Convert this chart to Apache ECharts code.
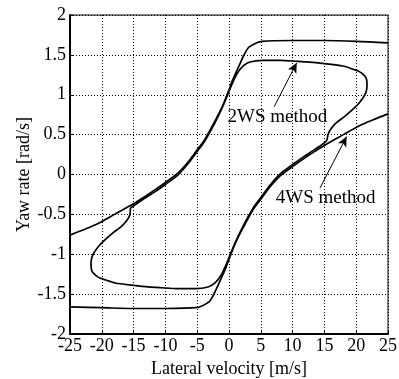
<!DOCTYPE html>
<html>
<head>
<meta charset="utf-8">
<script src="https://cdn.jsdelivr.net/npm/echarts@6/dist/echarts.min.js"></script>
<style>
  html, body { margin: 0; padding: 0; background: #fff; }
  #yawChart { width: 399px; height: 379px; }
</style>
</head>
<body>
<div id="yawChart"></div>
<script>
// upper branch of the 4WS curve (lateral velocity, yaw rate)
const upperBranch = [
  [-25, -0.76], [-22.5, -0.68], [-20.5, -0.61], [-18, -0.5], [-15.3, -0.38],
  [-13.5, -0.29], [-11.6, -0.19], [-10, -0.1], [-8, 0.02], [-6.5, 0.15],
  [-5, 0.31], [-3.8, 0.44], [-2.2, 0.67], [-1, 0.86], [-0.2, 1.02],
  [0.5, 1.17], [1.5, 1.35], [2.5, 1.52], [3.2, 1.6], [5.2, 1.67],
  [10, 1.68], [15, 1.68], [20, 1.67], [25, 1.65]
];
// lower branch of the 4WS curve
const lowerBranch = [
  [-25, -1.66], [-20, -1.67], [-15, -1.68], [-10, -1.68], [-5.2, -1.67],
  [-3.2, -1.6], [-2.5, -1.52], [-1.5, -1.35], [-0.5, -1.17], [0.2, -1.02],
  [1, -0.86], [2.2, -0.67], [3.8, -0.44], [5, -0.31], [6.5, -0.15],
  [8, -0.02], [10, 0.1], [11.6, 0.19], [13.5, 0.29], [15.3, 0.38],
  [18, 0.5], [20.5, 0.61], [22.5, 0.68], [25, 0.76]
];
// closed 2WS loop
const loop2WS = [
  [-15.5, -0.42], [-13.5, -0.31], [-11.6, -0.215], [-10, -0.125], [-8, -0.005],
  [-6.5, 0.13], [-5, 0.29], [-3.8, 0.42], [-2.2, 0.65], [-1, 0.85],
  [-0.2, 1.0], [0.5, 1.14], [1.3, 1.27], [2.2, 1.36], [3.3, 1.41],
  [5.3, 1.43], [8, 1.43], [10.7, 1.42], [12.7, 1.41], [15, 1.39],
  [17.9, 1.36], [19.5, 1.32], [20.5, 1.29], [21.3, 1.24], [21.6, 1.2],
  [21.7, 1.13], [21.6, 1.05], [21.3, 0.99], [20.5, 0.9], [19.5, 0.82],
  [18.2, 0.73], [16.9, 0.65], [16.1, 0.58], [15.6, 0.51], [15.3, 0.42],
  [13.5, 0.315], [11.6, 0.215], [10, 0.125], [8, 0.005], [6.5, -0.13],
  [5, -0.29], [3.8, -0.42], [2.2, -0.65], [1, -0.85], [0.2, -1.0],
  [-0.5, -1.14], [-1.3, -1.27], [-2.2, -1.36], [-3.3, -1.41], [-5.3, -1.43],
  [-8, -1.43], [-10.7, -1.42], [-12.7, -1.41], [-15, -1.39], [-17.9, -1.36],
  [-19.5, -1.32], [-20.5, -1.29], [-21.3, -1.24], [-21.6, -1.2], [-21.7, -1.13],
  [-21.6, -1.05], [-21.3, -0.99], [-20.5, -0.9], [-19.5, -0.82], [-18.2, -0.73],
  [-16.9, -0.65], [-16.1, -0.58], [-15.6, -0.51], [-15.5, -0.42]
];
// annotation arrows: [tail, tip]
const arrow2WS = [[7.1, 0.85], [10.65, 1.4]];
const arrow4WS = [[14.3, -0.17], [18.5, 0.475]];
const labelNames = ['2WS method', '4WS method'];
const labelPositions = [[7.6, 0.72], [15.2, -0.3]];

const fontFamily = "'Liberation Serif', 'DejaVu Serif', serif";
const curveStyle = { color: '#000', width: 1.7 };
const gridLine = { show: true, lineStyle: { color: '#000', type: [1, 2], width: 1 } };

let chart = echarts.init(document.getElementById('yawChart'), null, { renderer: 'canvas' });

chart.setOption({
  animation: false,
  textStyle: { fontFamily: fontFamily },
  grid: {
    left: 70, right: 11, top: 15, bottom: 45,
    outerBoundsMode: 'none',
    containLabel: false,
    show: true, borderColor: '#000', borderWidth: 1, backgroundColor: 'transparent'
  },
  xAxis: {
    type: 'value',
    min: -25, max: 25, interval: 5,
    name: 'Lateral velocity [m/s]',
    nameLocation: 'middle',
    nameGap: 26,
    nameMoveOverlap: false,
    nameTextStyle: { color: '#000', fontSize: 18, fontFamily: fontFamily },
    axisLine: { show: true, onZero: false, lineStyle: { color: '#000', width: 2 } },
    axisTick: { show: true, inside: true, length: 3, lineStyle: { color: '#000' } },
    axisLabel: { color: '#000', fontSize: 18, fontFamily: fontFamily, margin: 3 },
    splitLine: gridLine
  },
  yAxis: {
    type: 'value',
    min: -2, max: 2, interval: 0.5,
    name: 'Yaw rate [rad/s]',
    nameLocation: 'middle',
    nameGap: 37,
    nameMoveOverlap: false,
    nameTextStyle: { color: '#000', fontSize: 18, fontFamily: fontFamily },
    axisLine: { show: true, onZero: false, lineStyle: { color: '#000', width: 2 } },
    axisTick: { show: true, inside: true, length: 3, lineStyle: { color: '#000' } },
    axisLabel: { color: '#000', fontSize: 18, fontFamily: fontFamily, margin: 4 },
    splitLine: gridLine
  },
  series: [
    {
      name: '4WS upper',
      type: 'line',
      data: upperBranch,
      smooth: 0.3,
      showSymbol: false,
      lineStyle: curveStyle,
      silent: true
    },
    {
      name: '4WS lower',
      type: 'line',
      data: lowerBranch,
      smooth: 0.3,
      showSymbol: false,
      lineStyle: curveStyle,
      silent: true,
      markLine: {
        silent: true,
        symbol: ['none', 'arrow'],
        symbolSize: [7, 10],
        label: { show: false },
        lineStyle: { color: '#000', width: 1, type: 'solid' },
        data: [
          [{ coord: arrow2WS[0] }, { coord: arrow2WS[1] }],
          [{ coord: arrow4WS[0] }, { coord: arrow4WS[1] }]
        ]
      }
    },
    {
      name: '2WS',
      type: 'line',
      data: loop2WS,
      smooth: 0.3,
      showSymbol: false,
      lineStyle: curveStyle,
      silent: true
    },
    {
      name: 'labels',
      type: 'scatter',
      symbolSize: 0,
      itemStyle: { color: '#000', opacity: 1 },
      silent: true,
      data: labelNames.map((n, i) => ({ name: n, value: labelPositions[i] })),
      label: {
        show: true,
        position: 'inside',
        formatter: '{b}',
        color: '#000',
        textBorderWidth: 0,
        fontSize: 19,
        fontFamily: fontFamily
      }
    }
  ]
});
</script>
</body>
</html>
